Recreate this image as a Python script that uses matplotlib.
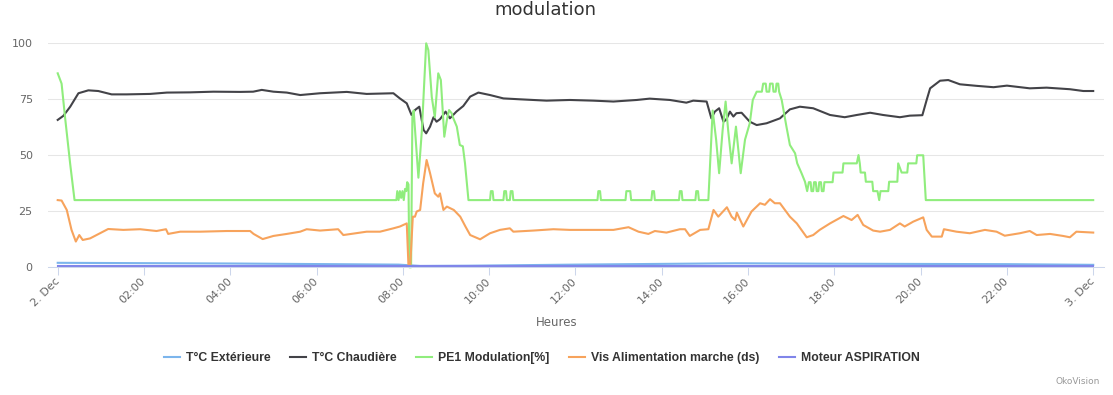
import matplotlib.pyplot as plt
import numpy as np

# heures depuis 2. Dec 00:00 -> valeurs
ext_h = [0, 4, 7.9, 8.4, 9.5, 12, 15.7, 18, 22, 24]
ext_v = [2.0, 1.7, 1.2, 0.6, 0.7, 1.2, 1.8, 1.6, 1.4, 1.1]

chaud_h = [0, 0.13, 0.29, 0.48, 0.71, 0.94, 1.25, 1.6, 2.14, 2.53, 3.07, 3.61, 4.23, 4.53,
           4.73, 5.0, 5.31, 5.62, 6.08, 6.7, 7.16, 7.78, 7.93, 8.09, 8.2, 8.28, 8.38, 8.48,
           8.54, 8.63, 8.71, 8.78, 8.86, 8.99, 9.09, 9.24, 9.4, 9.56, 9.75, 10.02, 10.33,
           10.71, 11.33, 11.87, 12.41, 12.88, 13.42, 13.72, 14.19, 14.57, 14.73, 15.04,
           15.15, 15.23, 15.33, 15.43, 15.49, 15.58, 15.66, 15.73, 15.85, 16.04, 16.2,
           16.43, 16.74, 16.97, 17.2, 17.51, 17.9, 18.24, 18.52, 18.83, 19.13, 19.52,
           19.75, 20.04, 20.14, 20.22, 20.45, 20.64, 20.91, 21.3, 21.69, 22.0, 22.53,
           22.92, 23.46, 23.77, 24]
chaud_v = [65.8, 67.6, 71.7, 77.7, 79.0, 78.7, 77.2, 77.2, 77.4, 78.0, 78.1, 78.4, 78.3, 78.4,
           79.2, 78.4, 78.0, 76.9, 77.7, 78.3, 77.4, 77.7, 75.4, 73.2, 68.0, 70.2, 71.7, 61.3,
           59.8, 62.8, 67.0, 65.0, 66.1, 69.5, 66.5, 69.5, 72.0, 76.2, 78.0, 76.9, 75.4,
           75.0, 74.4, 74.7, 74.4, 74.0, 74.7, 75.3, 74.7, 73.5, 74.4, 74.0,
           66.5, 69.5, 71.0, 65.0, 65.8, 69.5, 67.3, 68.8, 69.0, 65.0, 63.5,
           64.3, 66.5, 70.5, 71.7, 71.0, 68.0, 67.0, 68.0, 69.0, 68.0, 67.0,
           67.7, 67.9, 74.7, 79.9, 83.3, 83.6, 81.7, 81.0, 80.4, 81.1, 79.9,
           80.2, 79.5, 78.7, 78.7]

modul_h = [0, 0.09, 0.17, 0.29, 0.39, 7.85, 7.87, 7.9, 7.93, 7.96, 7.99, 8.02, 8.05, 8.08,
           8.1, 8.13, 8.15, 8.19, 8.22, 8.25, 8.36, 8.44, 8.54, 8.59, 8.67, 8.74, 8.82, 8.88,
           8.96, 9.02, 9.07, 9.13, 9.17, 9.25, 9.32, 9.39, 9.44, 9.52,
           10.02, 10.04, 10.08, 10.1, 10.33, 10.35, 10.39, 10.41, 10.48, 10.5, 10.54, 10.56,
           12.51, 12.53, 12.57, 12.59, 13.16, 13.18, 13.27, 13.29, 13.76, 13.78, 13.82, 13.84,
           14.4, 14.42, 14.46, 14.48, 14.78, 14.8, 14.84, 14.86,
           15.08, 15.18, 15.26, 15.33, 15.41, 15.48, 15.54, 15.62, 15.72, 15.83, 15.93, 16.04,
           16.11, 16.2, 16.32, 16.35, 16.41, 16.43, 16.49, 16.51, 16.57, 16.59, 16.64, 16.66,
           16.7, 16.72, 16.78, 16.89, 16.97, 17.09, 17.14, 17.24, 17.32, 17.37, 17.41, 17.45,
           17.47, 17.51, 17.53, 17.57, 17.59, 17.63, 17.65, 17.69, 17.71, 17.75, 17.77, 17.96,
           17.98, 18.19, 18.21, 18.52, 18.56, 18.59, 18.61, 18.71, 18.73, 18.88, 18.9, 19.0,
           19.04, 19.07, 19.25, 19.27, 19.46, 19.48, 19.56, 19.69, 19.71, 19.9, 19.92, 20.06,
           20.12, 24]
modul_v = [86.6, 82, 67, 46, 30, 30, 34, 30, 34, 31, 34, 30, 35, 34,
           38, 37, 0, 0, 67, 70, 40, 61, 100, 97, 76, 67, 86.6, 83.6,
           58.3, 65.8, 70.2, 68.8, 66.5, 62.8, 54.6, 54, 46.4, 30,
           30, 34, 34, 30, 30, 34, 34, 30, 30, 34, 34, 30,
           30, 34, 34, 30, 30, 34, 34, 30, 30, 34, 34, 30,
           30, 34, 34, 30, 30, 34, 34, 30,
           30, 70, 57, 42, 61, 74, 61, 46.4, 62.8, 42, 57, 64.3,
           74.7, 78.4, 78.4, 82, 82, 78.4, 78.4, 82, 82, 78.4, 78.4, 82,
           82, 78.4, 74.7, 62.8, 54.6, 50.9, 46.4, 42, 38.2, 34, 38, 38,
           34, 34, 38, 38, 34, 34, 38, 38, 34, 34, 38, 38,
           42.3, 42.3, 46.4, 46.4, 50.1, 46.4, 42.3, 42.3, 38.2, 38.2, 34, 34,
           30, 34, 34, 38.2, 38.2, 46.4, 42.3, 42.3, 46.4, 46.4, 50, 50,
           30, 30]

vis_h = [0, 0.09, 0.21, 0.32, 0.42, 0.5, 0.58, 0.75, 0.98, 1.17, 1.52, 1.91, 2.29, 2.51,
         2.56, 2.84, 3.3, 3.92, 4.46, 4.54, 4.75, 5.0, 5.31, 5.62, 5.77, 6.08, 6.5, 6.62,
         7.16, 7.47, 7.78, 7.93, 8.09, 8.13, 8.17, 8.23, 8.28, 8.32, 8.4, 8.47, 8.55, 8.63,
         8.74, 8.82, 8.86, 8.94, 9.02, 9.18, 9.33, 9.45, 9.56, 9.79, 10.02, 10.25, 10.48,
         10.56, 11.02, 11.49, 11.87, 12.1, 12.53, 12.88, 13.23, 13.46, 13.69, 13.84, 14.11,
         14.42, 14.54, 14.65, 14.89, 15.08, 15.2, 15.31, 15.51, 15.62, 15.7, 15.74, 15.89,
         16.08, 16.28, 16.39, 16.51, 16.62, 16.74, 16.97, 17.13, 17.36, 17.51, 17.66, 17.9,
         18.21, 18.4, 18.54, 18.67, 18.9, 19.06, 19.29, 19.52, 19.63, 19.83, 20.06, 20.14,
         20.26, 20.49, 20.54, 20.83, 21.14, 21.49, 21.76, 21.95, 22.3, 22.53, 22.69, 23.0,
         23.3, 23.46, 23.61, 24]
vis_v = [30, 29.8, 25.6, 16.7, 11.5, 14.4, 12.2, 12.9, 15.2, 17.1, 16.7, 17, 16.2, 17,
         14.9, 15.9, 15.9, 16.2, 16.2, 14.9, 12.6, 14, 14.9, 15.9, 17, 16.4, 17, 14.4,
         15.9, 15.9, 17.4, 18.2, 19.6, 0.5, 0.5, 22.6, 22.6, 24.9, 25.6, 37.5, 47.9, 42,
         33, 31.5, 33, 25.6, 27.1, 25.6, 22.6, 18.2, 14.4, 12.5, 15.2, 16.7, 17.4,
         15.9, 16.4, 17, 16.7, 16.7, 16.7, 16.7, 17.9, 15.9, 14.9, 16.2, 15.5,
         17, 17, 14, 16.7, 17, 25.6, 22.6, 26.8, 22.6, 21.1, 24.4, 18.2,
         24.9, 28.6, 27.9, 30.4, 28.6, 28.6, 22.6, 19.6, 13.4, 14.4, 16.7, 19.6,
         22.9, 21.1, 23.4, 18.9, 16.4, 15.9, 16.7, 19.6, 18.2, 20.4, 22.3, 16.7,
         13.7, 13.7, 17, 15.9, 15.2, 16.7, 15.9, 14.1, 15.2, 16.2, 14.4, 14.9,
         14, 13.4, 15.9, 15.5]

asp_h = [0, 24]
asp_v = [0.4, 0.4]

tick_pos = np.arange(0, 25, 2)
tick_lab = ['2. Dec'] + ['%02d:00' % h for h in range(2, 24, 2)] + ['3. Dec']

noms = ['T°C Extérieure', 'T°C Chaudière', 'PE1 Modulation[%]',
        'Vis Alimentation marche (ds)', 'Moteur ASPIRATION']
couleurs = ['#7cb5ec', '#434348', '#90ed7d', '#f7a35c', '#8085e9']

fig = plt.figure(figsize=(11.13, 3.95), dpi=100)
ax = fig.add_axes([48 / 1113, 1 - 267.3 / 395, 1056 / 1113, 224 / 395])

series = [(ext_h, ext_v), (chaud_h, chaud_v), (modul_h, modul_v), (vis_h, vis_v), (asp_h, asp_v)]
for (h, v), nom, c in zip(series, noms, couleurs):
    ax.plot(h, v, color=c, lw=1.5, label=nom, clip_on=False, solid_joinstyle='round')

ax.set_xlim(-0.225, 24.25)
ax.set_ylim(0, 100)
ax.set_yticks([0, 25, 50, 75, 100])
ax.grid(axis='y', color='#e6e6e6', lw=0.75)
ax.set_axisbelow(True)
for s in ['top', 'right', 'left']:
    ax.spines[s].set_visible(False)
ax.spines['bottom'].set_color('#ccd6eb')
ax.spines['bottom'].set_linewidth(0.75)
ax.tick_params(axis='y', length=0, pad=11, labelsize=8, labelcolor='#666666')
ax.tick_params(axis='x', length=6, width=0.75, color='#ccd6eb', pad=3, labelsize=8,
               labelcolor='#666666')
ax.set_xticks(tick_pos)
ax.set_xticklabels(tick_lab, rotation=45, ha='right', va='center', rotation_mode='anchor')

fig.text(557 / 1113, 1 - 323 / 395, 'Heures', ha='center', va='center',
         fontsize=8.5, color='#666666')
fig.text(545 / 1113, 1 - 15 / 395, 'modulation', ha='center', va='baseline',
         fontsize=13, color='#333333')
fig.text(1100 / 1113, 1 - 381 / 395, 'OkoVision', ha='right', va='center',
         fontsize=6.5, color='#999999')

leg = fig.legend(loc='center', bbox_to_anchor=(542 / 1113, 1 - 358 / 395), ncol=5,
                 frameon=False, handlelength=1.3, handletextpad=0.5, columnspacing=1.6,
                 prop={'family': ['Liberation Sans', 'DejaVu Sans'],
                       'weight': 'bold', 'size': 8.8})
for t in leg.get_texts():
    t.set_color('#333333')

plt.savefig('out.png', dpi=100)
